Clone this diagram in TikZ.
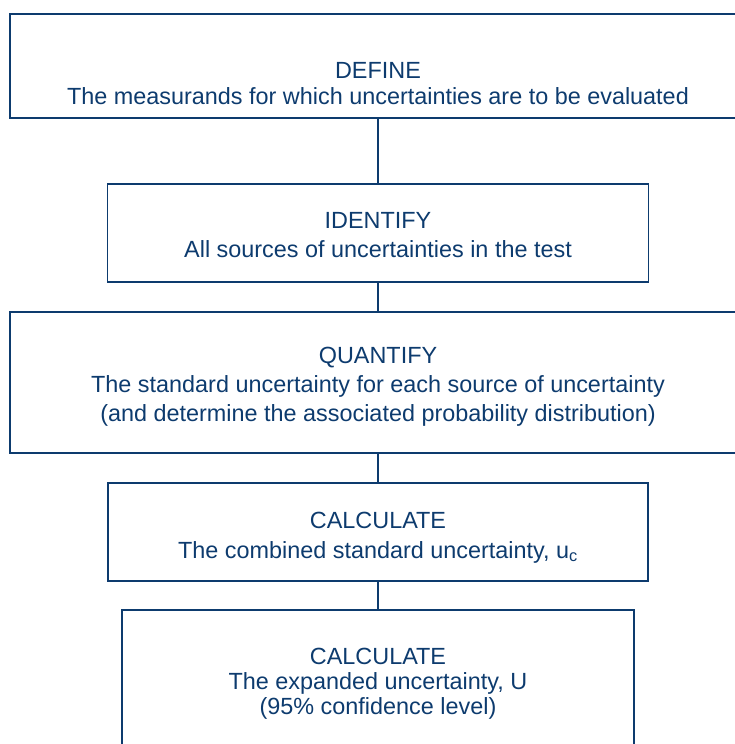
\documentclass[tikz,border=0pt]{standalone}
\usepackage{fontspec}
\setmainfont{Liberation Sans}
\definecolor{navy}{HTML}{0D3B6E}
\tikzset{
  stepBox/.style = {draw=navy, line width=1.6pt, text=navy, align=center,
    inner sep=0pt, font=\fontsize{23.4}{26}\selectfont},
  linkLine/.style = {draw=navy, line width=1.6pt}
}
\usetikzlibrary{positioning}

\begin{document}
\begin{tikzpicture}[x=1pt, y=-1pt]
  \path[use as bounding box, clip] (0,0) rectangle (735,744);

  \node[stepBox, minimum width=736pt, minimum height=104pt] (define) at (378,66)
    {\rule{0pt}{52pt}DEFINE\\ The measurands for which uncertainties are to be evaluated};

  \node[stepBox, minimum width=541pt, minimum height=98pt,
    font=\fontsize{23.4}{29}\selectfont] (identify) at (378,233)
    {\rule{0pt}{20pt}IDENTIFY\\ All sources of uncertainties in the test};

  \node[stepBox, minimum width=736pt, minimum height=141pt,
    font=\fontsize{23.4}{29}\selectfont] (quantify) at (378,382.5)
    {\rule{0pt}{25pt}QUANTIFY\\ The standard uncertainty for each source of uncertainty\\
     (and determine the associated probability distribution)};

  \node[stepBox, minimum width=540pt, minimum height=98pt,
    font=\fontsize{23.4}{30}\selectfont] (combined) at (378,532)
    {\rule{0pt}{27pt}CALCULATE\\ The combined standard uncertainty, u\textsubscript{c}};

  \node[stepBox, minimum width=512pt, minimum height=142pt,
    font=\fontsize{23.4}{25}\selectfont] (expanded) at (378,681)
    {\rule{0pt}{21pt}CALCULATE\\ The expanded uncertainty, U\\ (95\% confidence level)};

  \draw[linkLine] (define.south) -- (identify.north);
  \draw[linkLine] (identify.south) -- (quantify.north);
  \draw[linkLine] (quantify.south) -- (combined.north);
  \draw[linkLine] (combined.south) -- (expanded.north);
\end{tikzpicture}
\end{document}
